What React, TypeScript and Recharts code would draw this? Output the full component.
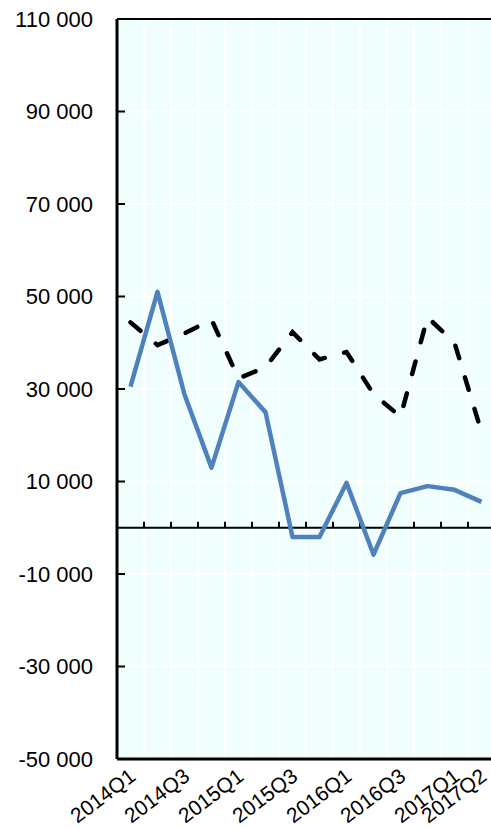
import React from 'react';
import { LineChart, Line, XAxis, YAxis, CartesianGrid, ReferenceLine } from 'recharts';

const quarters = [
  '2014Q1', '2014Q2', '2014Q3', '2014Q4',
  '2015Q1', '2015Q2', '2015Q3', '2015Q4',
  '2016Q1', '2016Q2', '2016Q3', '2016Q4',
  '2017Q1', '2017Q2',
];
const solidValues = [30500, 51000, 28800, 13000, 31500, 25000, -2000, -2000, 9700, -5800, 7500, 9000, 8200, 5600];
const dashedValues = [44400, 39500, 42000, 45000, 32300, 34700, 42300, 36400, 38000, 28900, 24000, 45500, 40000, 20700];
const shownQuarters = ['2014Q1', '2014Q3', '2015Q1', '2015Q3', '2016Q1', '2016Q3', '2017Q1', '2017Q2'];
const yTicks = [-50000, -30000, -10000, 10000, 30000, 50000, 70000, 90000, 110000];

// one row per quarter, x sits in the middle of its band
const data = quarters.map((q, i) => ({ q, x: i + 0.5, solid: solidValues[i], dashed: dashedValues[i] }));
const labelTicks = shownQuarters.map((q) => quarters.indexOf(q) + 0.5);
const boundaries = quarters.slice(1).map((_, i) => i + 1);

const FONT = '"Liberation Sans", Arial, sans-serif';

const fmt = (v: number) => {
  const s = Math.abs(v).toString().replace(/\B(?=(\d{3})+(?!\d))/g, ' ');
  return (v < 0 ? '-' : '') + s;
};

const YTick = (props: any) => {
  const { x, y, payload } = props;
  return (
    <g>
      <line x1={x} x2={x + 8} y1={y} y2={y} stroke="#000" strokeWidth={2} />
      <text x={x - 24} y={y} textAnchor="end" dominantBaseline="central" fontSize={22} fontFamily={FONT} fill="#000">
        {fmt(payload.value)}
      </text>
    </g>
  );
};

const XTick = (props: any) => {
  const { x, y, payload } = props;
  const label = quarters[Math.floor(payload.value)];
  return (
    <text
      transform={`translate(${x + 6.5},${y + 18}) rotate(-37)`}
      textAnchor="end"
      fontSize={21}
      fontFamily={FONT}
      fill="#000"
    >
      {label}
    </text>
  );
};

export default function App() {
  return (
    <div style={{ position: 'fixed', left: 0, top: 0, width: 491, height: 829, overflow: 'hidden', background: '#fff' }}>
      <LineChart width={500} height={829} data={data} margin={{ top: 18, right: 5, bottom: 69, left: 0 }}>
        <CartesianGrid fill="#F1FEFE" stroke="#fff" strokeWidth={2} vertical={false} />
        <XAxis
          xAxisId="bottom"
          dataKey="x"
          type="number"
          domain={[0, 14]}
          ticks={labelTicks}
          interval={0}
          tick={<XTick />}
          tickLine={false}
          tickSize={0}
          axisLine={{ stroke: '#000', strokeWidth: 3 }}
          height={1}
        />
        <XAxis
          xAxisId="top"
          orientation="top"
          dataKey="x"
          type="number"
          domain={[0, 14]}
          tick={false}
          tickLine={false}
          axisLine={{ stroke: '#000', strokeWidth: 2 }}
          height={1}
        />
        <YAxis
          domain={[-50000, 110000]}
          ticks={yTicks}
          interval={0}
          width={117}
          tick={<YTick />}
          tickLine={false}
          tickSize={0}
          tickMargin={0}
          axisLine={{ stroke: '#000', strokeWidth: 3 }}
        />
        {boundaries.map((b) => (
          <ReferenceLine key={'g' + b} xAxisId="bottom" x={b} stroke="#fff" strokeWidth={2} />
        ))}
        <ReferenceLine xAxisId="bottom" y={0} stroke="#000" strokeWidth={2} />
        {boundaries.map((b) => (
          <ReferenceLine
            key={'t' + b}
            xAxisId="bottom"
            segment={[{ x: b, y: 0 }, { x: b, y: 1300 }]}
            stroke="#000"
            strokeWidth={2}
          />
        ))}
        <Line
          xAxisId="bottom"
          dataKey="dashed"
          stroke="#000"
          strokeWidth={4.5}
          strokeDasharray="13 20"
          strokeLinecap="round"
          dot={false}
          isAnimationActive={false}
        />
        <Line
          xAxisId="bottom"
          dataKey="solid"
          stroke="#4F81BD"
          strokeWidth={4.5}
          strokeLinejoin="round"
          dot={false}
          isAnimationActive={false}
        />
      </LineChart>
    </div>
  );
}
